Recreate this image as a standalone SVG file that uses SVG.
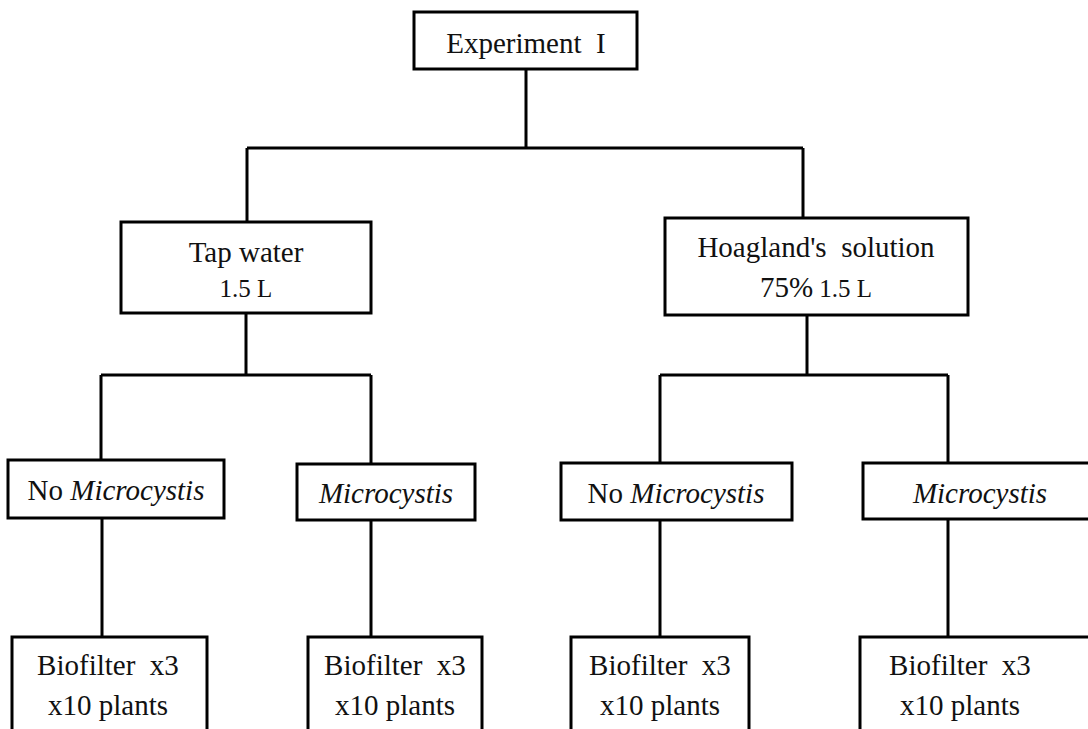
<svg xmlns="http://www.w3.org/2000/svg" width="1088" height="729" viewBox="0 0 1088 729" font-family="'Liberation Serif', 'Times New Roman', serif">
<style>
.box{fill:#fff;stroke:#000;stroke-width:3}
.ln{fill:none;stroke:#000;stroke-width:3}
.tx{font-family:'Liberation Serif','Times New Roman',serif;fill:#111;text-anchor:middle}
.t{font-size:29px}
.s{font-size:25px}
.i{font-style:italic}
</style>
<rect width="1088" height="729" fill="#fff"/>
<g id="connectors">
<path class="ln" d="M526 69V148M247 148H803M247 148V222M803 148V218"/>
<path class="ln" d="M246 313V375M101 375H371M101 375V460M371 375V464"/>
<path class="ln" d="M807 315V375M660 375H948M660 375V463M948 375V463"/>
<path class="ln" d="M102 518V637M371 520V637M660 520V637M948 520V637"/>
</g>
<g id="n-exp"><rect class="box" x="414" y="12" width="223" height="57"/><text class="tx t" x="526" y="53" font-size="30" xml:space="preserve">Experiment  I</text></g>
<g id="n-tap"><rect class="box" x="121" y="222" width="250" height="91"/><text class="tx t" x="246" y="262">Tap water</text><text class="tx s" x="246" y="297">1.5 L</text></g>
<g id="n-hoag"><rect class="box" x="665" y="218" width="303" height="97"/><text class="tx t" x="816" y="257" xml:space="preserve">Hoagland's  solution</text><text class="tx" x="816" y="297"><tspan class="t">75%</tspan><tspan class="s"> 1.5 L</tspan></text></g>
<g id="n-nm1"><rect class="box" x="8" y="460" width="216" height="58"/><text class="tx t" x="116" y="500">No <tspan class="i">Microcystis</tspan></text></g>
<g id="n-m1"><rect class="box" x="297" y="464" width="178" height="56"/><text class="tx t i" x="386" y="503">Microcystis</text></g>
<g id="n-nm2"><rect class="box" x="561" y="463" width="231" height="57"/><text class="tx t" x="676" y="503">No <tspan class="i">Microcystis</tspan></text></g>
<g id="n-m2"><rect class="box" x="863" y="463" width="240" height="56"/><text class="tx t i" x="980" y="503">Microcystis</text></g>
<g id="n-b1"><rect class="box" x="12" y="637" width="195" height="110"/><text class="tx t" x="108" y="675" xml:space="preserve">Biofilter  x3</text><text class="tx t" x="108" y="715">x10 plants</text></g>
<g id="n-b2"><rect class="box" x="308" y="637" width="174" height="110"/><text class="tx t" x="395" y="675" xml:space="preserve">Biofilter  x3</text><text class="tx t" x="395" y="715">x10 plants</text></g>
<g id="n-b3"><rect class="box" x="571" y="637" width="178" height="110"/><text class="tx t" x="660" y="675" xml:space="preserve">Biofilter  x3</text><text class="tx t" x="660" y="715">x10 plants</text></g>
<g id="n-b4"><rect class="box" x="860" y="637" width="240" height="110"/><text class="tx t" x="960" y="675" xml:space="preserve">Biofilter  x3</text><text class="tx t" x="960" y="715">x10 plants</text></g>
</svg>
